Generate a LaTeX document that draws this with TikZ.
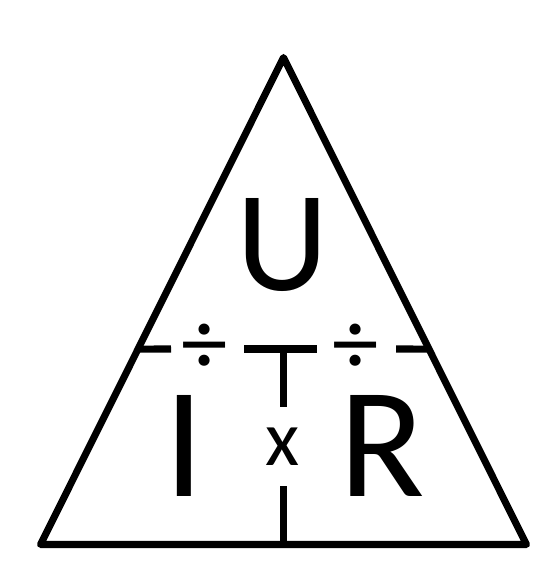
\documentclass[tikz,border=0pt]{standalone}
\usepackage{fontspec}
\setmainfont{Carlito}
\usetikzlibrary{calc}

\begin{document}
\begin{tikzpicture}[
    x=0.025cm, y=-0.025cm,
    edge/.style={line width=5pt, line join=round, line cap=round},
    bar/.style={line width=5pt},
    letter/.style={anchor=base, inner sep=0pt, font=\fontsize{112}{112}\selectfont},
    op/.style={inner sep=0pt, font=\fontsize{56}{56}\selectfont}
]
    \useasboundingbox (0,0) rectangle (552,580);
    \coordinate (top) at (283.5,57.5);
    \coordinate (bl) at (40.5,544.5);
    \coordinate (br) at (526.5,544.5);
    \draw[edge] (top) -- (bl) -- (br) -- cycle;

    % dividing lines
    \coordinate (ml) at ($(bl)!0.4014!(top)$);
    \coordinate (mr) at ($(br)!0.4014!(top)$);
    \coordinate (a1) at (171,349);
    \coordinate (a2) at (244,349);
    \coordinate (mid) at (283.5,349);
    \coordinate (a3) at (317,349);
    \coordinate (a4) at (396,349);
    \coordinate (v1) at (283.5,407);
    \coordinate (v2) at (283.5,486);
    \coordinate (bm) at (283.5,544.5);
    \draw[bar] (ml) -- (a1);
    \draw[bar] (a2) -- (a3);
    \draw[bar] (a4) -- (mr);
    \draw[bar] (mid) -- (v1);
    \draw[bar] (v2) -- (bm);

    % letters and signs
    \node[letter, font=\fontsize{102}{102}\selectfont] (u) at (283,290) {U};
    \node[letter] (i) at (184.5,496) {I};
    \node[letter] (r) at (382,496) {R};
    \node[op, anchor=base] (times) at (283,465) {x};
    \node[op, font=\fontsize{66}{66}\selectfont] (divl) at (205,349) {÷};
    \node[op, font=\fontsize{66}{66}\selectfont] (divr) at (356,349) {÷};
\end{tikzpicture}
\end{document}
